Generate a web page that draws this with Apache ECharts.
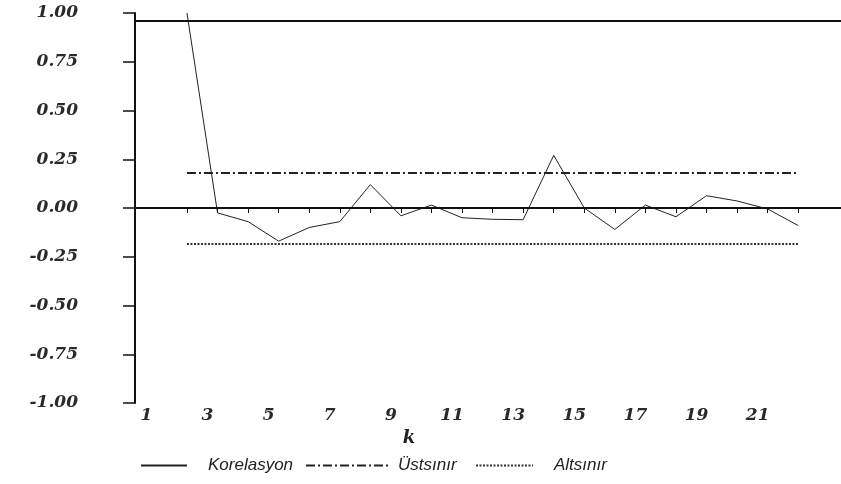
<!DOCTYPE html>
<html>
<head>
<meta charset="utf-8">
<script src="https://cdn.jsdelivr.net/npm/echarts@6/dist/echarts.min.js"></script>
<style>
  html, body { margin: 0; padding: 0; background: #fff; }
  #Korelogram { width: 841px; height: 484px; }
</style>
</head>
<body>
<div id="Korelogram"></div>
<script>
// gecikmeler (k) ve korelasyon degerleri
var lags = [2, 3, 4, 5, 6, 7, 8, 9, 10, 11, 12, 13, 14, 15, 16, 17, 18, 19, 20, 21, 22];
var korelasyon = [1.00, -0.025, -0.07, -0.17, -0.10, -0.07, 0.12, -0.04, 0.015, -0.05, -0.058,
                  -0.06, 0.27, 0.00, -0.11, 0.015, -0.045, 0.063, 0.036, -0.005, -0.09];
// guven sinirlari
var boundLags = [2, 22];
var ustSinir = [0.18, 0.18];
var altSinir = [-0.185, -0.185];
// eksen etiketleri
var xLabels = [1, 3, 5, 7, 9, 11, 13, 15, 17, 19, 21];
var xTicks = [2, 3, 4, 5, 6, 7, 8, 9, 10, 11, 12, 13, 14, 15, 16, 17, 18, 19, 20, 21, 22];
var yTicks = [-1, -0.75, -0.5, -0.25, 0, 0.25, 0.5, 0.75, 1];

var numFont = {
    fontFamily: 'DejaVu Serif',
    fontStyle: 'italic',
    fontWeight: 'bold',
    fontSize: 17,
    color: '#2a2a2a'
};
var legendFont = {
    fontFamily: 'Liberation Sans',
    fontStyle: 'italic',
    fontSize: 17,
    color: '#222'
};

function pairs(xs, ys) {
    return xs.map(function (x, i) { return [x, ys[i]]; });
}

var chart = echarts.init(document.getElementById('Korelogram'));
chart.setOption({
    backgroundColor: '#fff',
    animation: false,
    grid: { left: 135, right: 0, top: 13, bottom: 81 },
    legend: [
        {
            left: 135, top: 452, itemWidth: 46, itemHeight: 12,
            data: ['Korelasyon'],
            itemStyle: { opacity: 0 },
            textStyle: Object.assign({ padding: [0, 0, 0, 16] }, legendFont)
        },
        {
            left: 300, top: 452, itemWidth: 83, itemHeight: 12,
            data: ['Üstsınır'],
            itemStyle: { opacity: 0 },
            textStyle: Object.assign({ padding: [0, 0, 0, 4] }, legendFont)
        },
        {
            left: 470, top: 452, itemWidth: 57, itemHeight: 12,
            data: ['Altsınır'],
            itemStyle: { opacity: 0 },
            textStyle: Object.assign({ padding: [0, 0, 0, 16] }, legendFont)
        }
    ],
    xAxis: {
        type: 'value',
        min: 0.3,
        max: 23.4,
        name: 'k',
        nameLocation: 'middle',
        nameGap: 18,
        nameTextStyle: {
            fontFamily: 'DejaVu Serif',
            fontStyle: 'italic',
            fontWeight: 'bold',
            fontSize: 18,
            color: '#222',
            padding: [0, 158, 0, 0]
        },
        axisLine: { lineStyle: { color: '#111', width: 2 } },
        axisTick: {
            customValues: xTicks,
            length: 5,
            lineStyle: { color: '#111', width: 1 }
        },
        axisLabel: Object.assign({
            customValues: xLabels,
            margin: 4,
            padding: [0, 20, 0, 0]
        }, numFont),
        splitLine: { show: false }
    },
    yAxis: {
        type: 'value',
        min: -1,
        max: 1,
        interval: 0.25,
        axisLine: { show: true, lineStyle: { color: '#111', width: 2 } },
        axisTick: {
            show: true,
            customValues: yTicks,
            length: 12,
            lineStyle: { color: '#111', width: 1.5 }
        },
        axisLabel: Object.assign({
            margin: 57,
            formatter: function (v) { return v.toFixed(2); }
        }, numFont),
        splitLine: { show: false }
    },
    series: [
        {
            name: 'Korelasyon',
            type: 'line',
            symbol: 'none',
            clip: false,
            data: pairs(lags, korelasyon),
            lineStyle: { color: '#222', width: 1 },
            itemStyle: { color: '#222' },
            markLine: {
                silent: true,
                symbol: 'none',
                label: { show: false },
                lineStyle: { color: '#111', width: 2, type: 'solid' },
                data: [{ yAxis: 0 }, { yAxis: 0.958 }]
            }
        },
        {
            name: 'Üstsınır',
            type: 'line',
            symbol: 'none',
            data: pairs(boundLags, ustSinir),
            lineStyle: { color: '#222', width: 2, type: [9, 3, 2, 3] },
            itemStyle: { color: '#222' }
        },
        {
            name: 'Altsınır',
            type: 'line',
            symbol: 'none',
            data: pairs(boundLags, altSinir),
            lineStyle: { color: '#333', width: 2, type: [2, 1.5] },
            itemStyle: { color: '#333' }
        }
    ]
});
</script>
</body>
</html>
